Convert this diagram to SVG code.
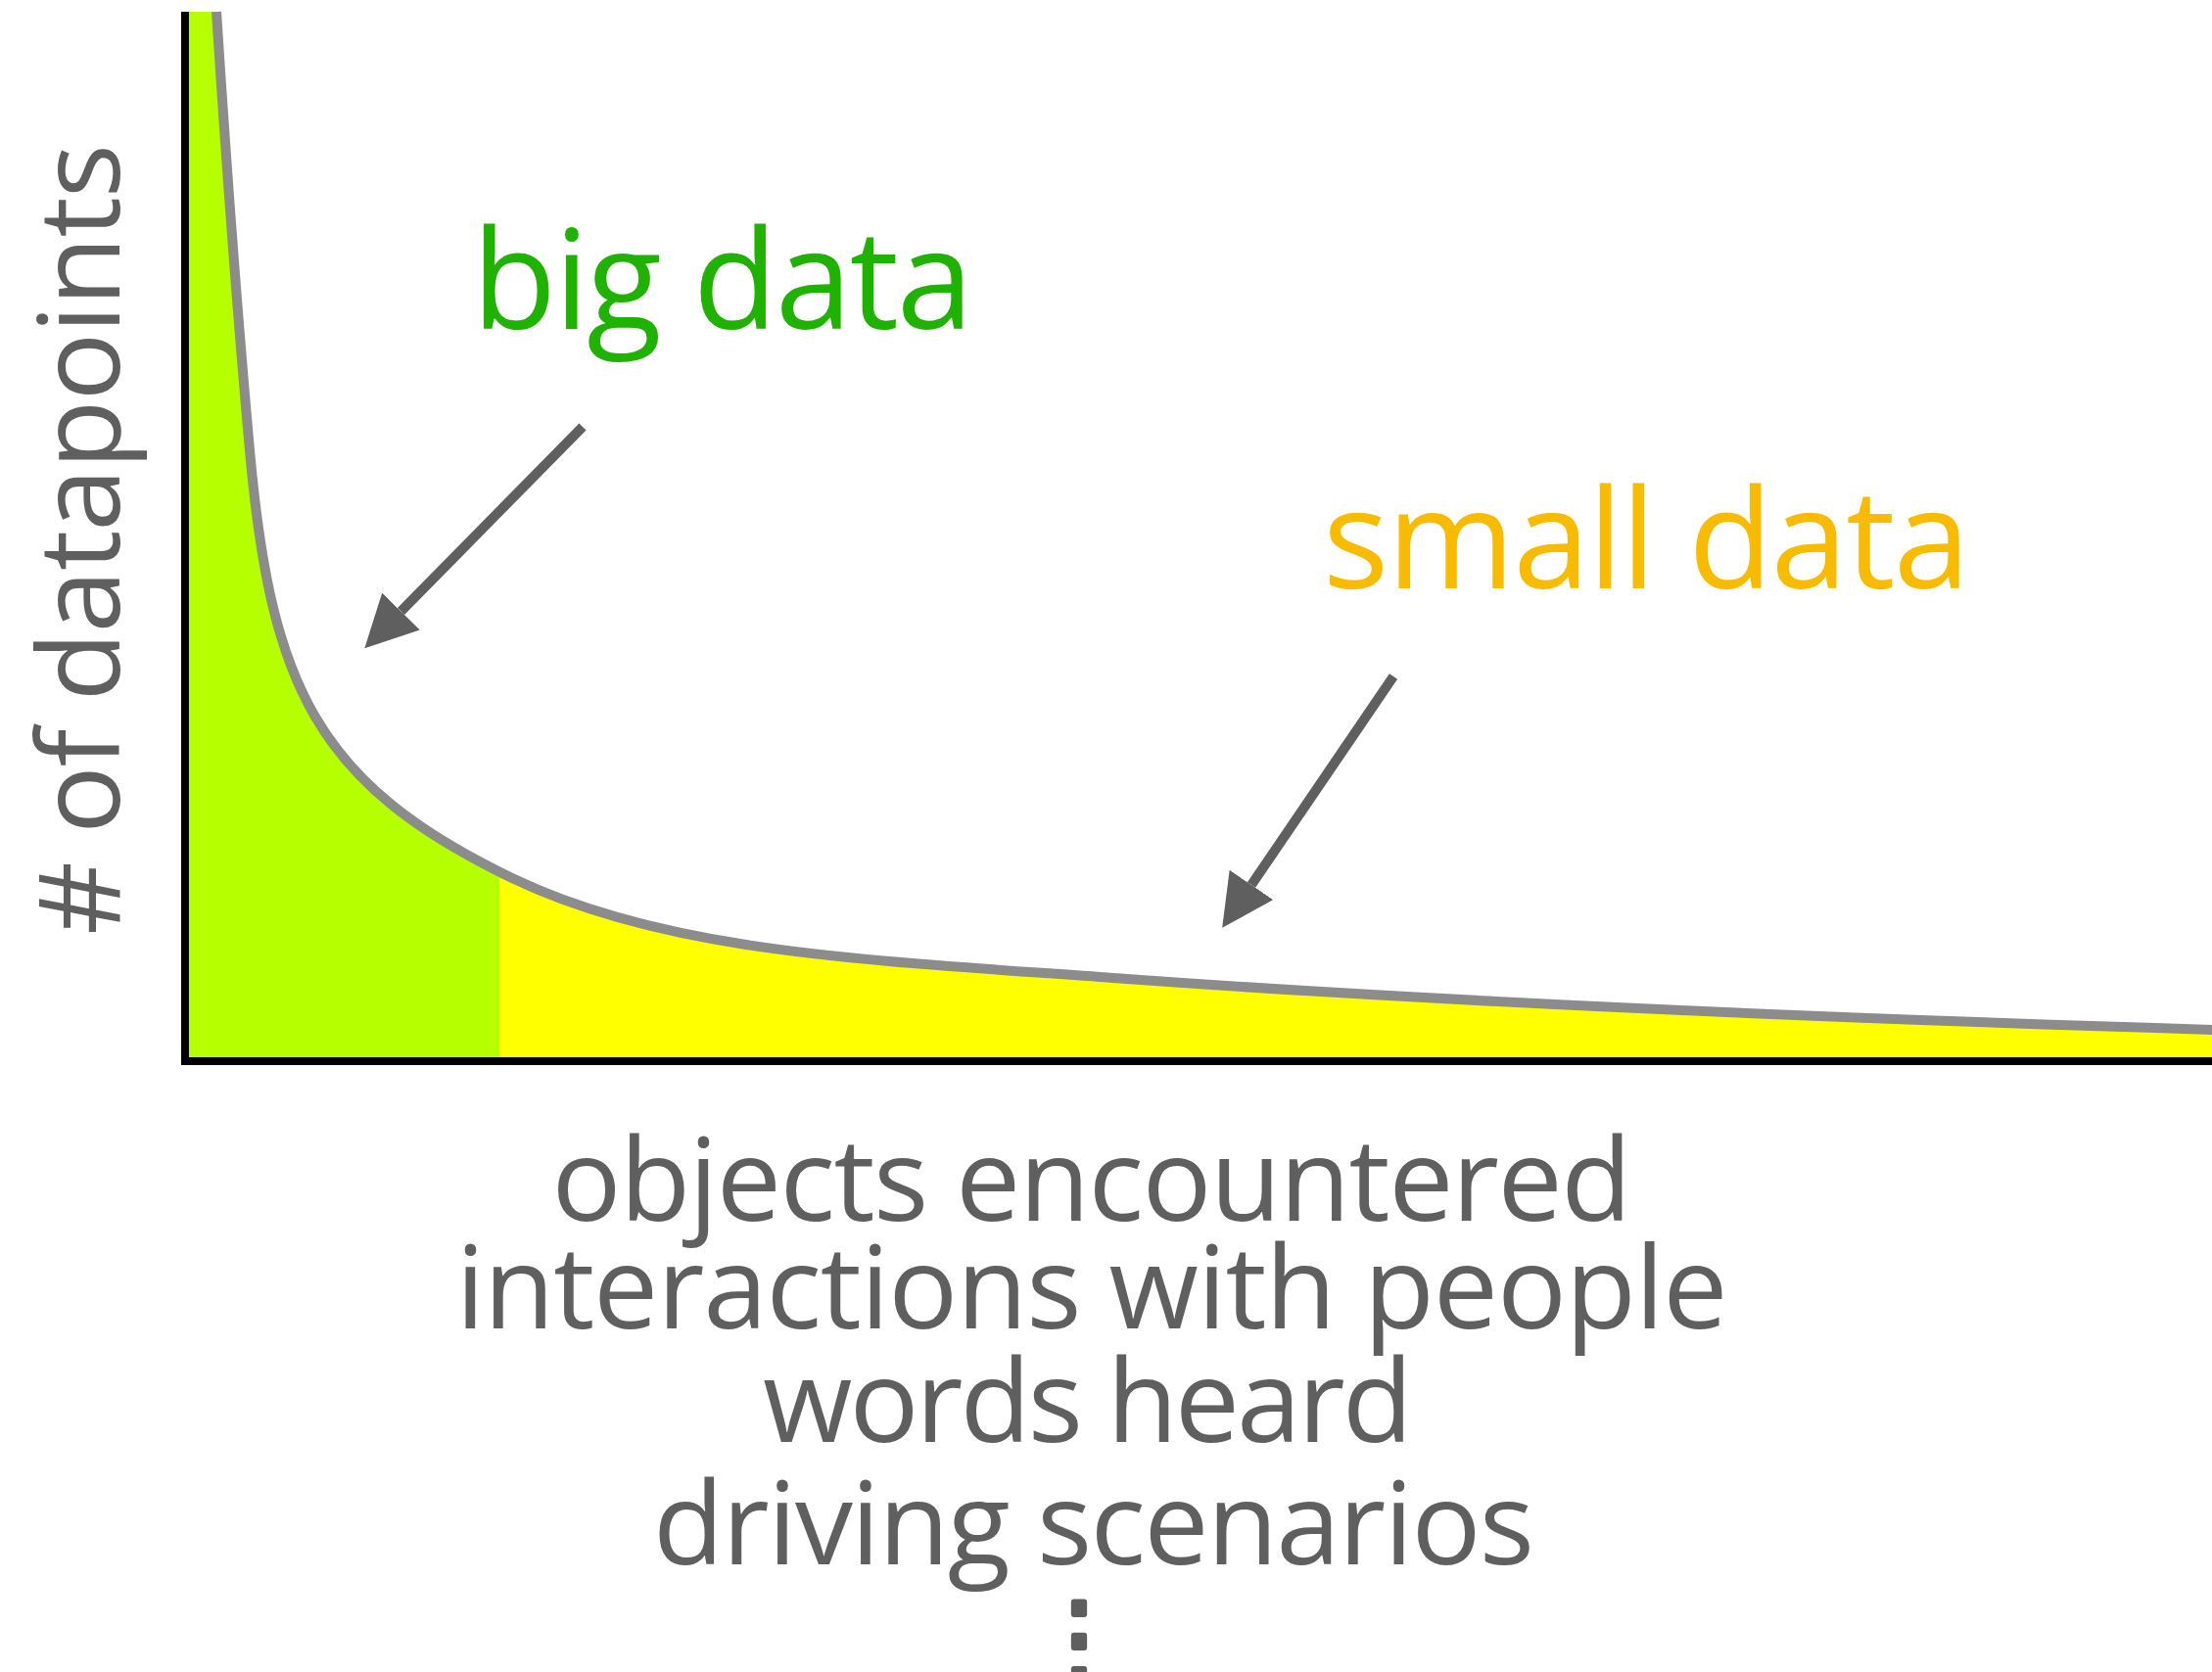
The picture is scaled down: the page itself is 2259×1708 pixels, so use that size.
<svg xmlns="http://www.w3.org/2000/svg" width="2259" height="1708" viewBox="0 0 2259 1708">
<style>
  .txt { font-family: "Open Sans", "Liberation Sans", sans-serif; }
  .gray { fill: #5f5f5f; }
  .xlabel { font-size: 118px; text-anchor: middle; }
  .arrow { stroke: #5f5f5f; stroke-width: 10; fill: none; marker-end: url(#ah); }
  .axis { stroke: #000000; stroke-width: 8; fill: none; }
</style>
<defs>
  <path id="area" d="M193,12 L221,12 C230.75,162 241.5,310 255,460 C276.6,700 323,801 523,897 C683,973.8 887,980.75 1137,999 C1487,1024.6 1862,1040 2262,1052 L2262,1082 L193,1082 Z"/>
  <clipPath id="clipArea"><use href="#area"/></clipPath>
  <marker id="ah" markerUnits="userSpaceOnUse" markerWidth="53" markerHeight="54" viewBox="0 0 53 54" refX="0" refY="27" orient="auto">
    <path d="M0,0 L53,27 L0,54 Z" fill="#5f5f5f"/>
  </marker>
</defs>
<rect x="0" y="0" width="2259" height="1708" fill="#ffffff"/>
<g id="chart">
  <use href="#area" fill="#ffff00"/>
  <rect x="185" y="0" width="325" height="1090" fill="#b6ff00" clip-path="url(#clipArea)"/>
  <path id="curve" d="M221,12 C230.75,162 241.5,310 255,460 C276.6,700 323,801 523,897 C683,973.8 887,980.75 1137,999 C1487,1024.6 1862,1040 2262,1052" stroke="#8c8c8c" stroke-width="10" fill="none"/>
  <line class="axis" x1="189" y1="12" x2="189" y2="1088"/>
  <line class="axis" x1="185" y1="1084" x2="2259" y2="1084"/>
</g>
<g id="y-axis-label">
  <text class="txt gray" font-size="116" transform="translate(122,955) rotate(-90)" textLength="808">#  of datapoints</text>
</g>
<g id="big-data">
  <text class="txt" x="482" y="336" font-size="141" fill="#1fb200" textLength="512">big data</text>
</g>
<g id="small-data">
  <text class="txt" x="1351" y="601" font-size="141" fill="#f8bb00" textLength="661">small data</text>
</g>
<g id="connectors">
  <line class="arrow" x1="595" y1="436" x2="409.5" y2="624.5"/>
  <line class="arrow" x1="1423" y1="691" x2="1278" y2="904"/>
</g>
<g id="x-axis-labels" class="txt gray xlabel">
  <text x="1115" y="1247" textLength="1103">objects encountered</text>
  <text x="1115" y="1357" textLength="1299">interactions with people</text>
  <text x="1111" y="1473" textLength="664">words heard</text>
  <text x="1117" y="1598" textLength="900">driving scenarios</text>
  <text x="1102" y="1708" stroke="#5f5f5f" stroke-width="6" stroke-linejoin="round" style="font-family: 'DejaVu Sans', sans-serif; font-size: 100px;">⋮</text>
</g>
</svg>
